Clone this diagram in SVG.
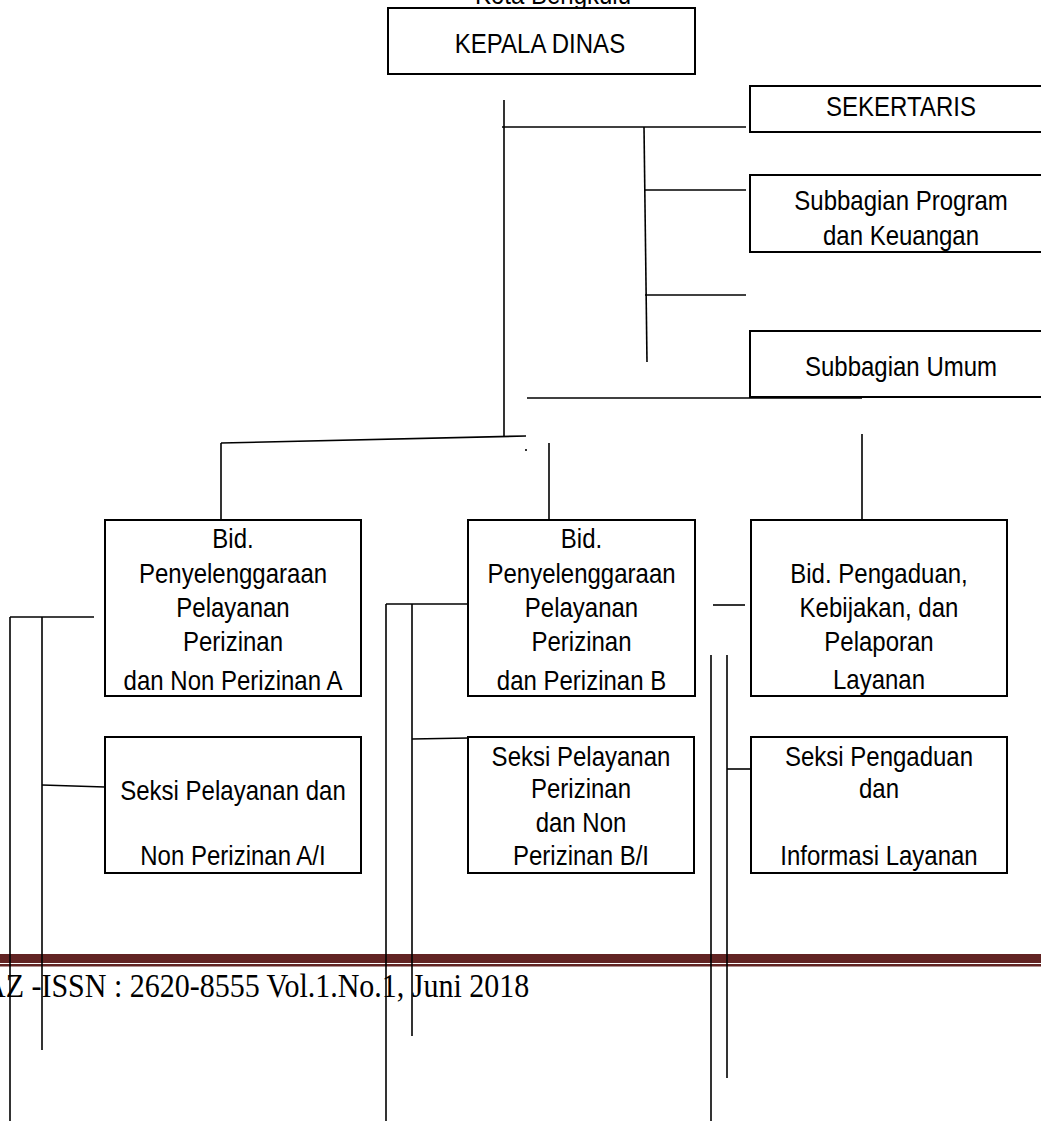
<svg xmlns="http://www.w3.org/2000/svg" width="1041" height="1121" viewBox="0 0 1041 1121">
<style>
.box{fill:#fff;stroke:#000;stroke-width:2}
.t{font-family:"Liberation Sans",Arial,sans-serif;font-size:24px;fill:#000;text-anchor:middle}
.c line{stroke:#000;stroke-width:1.6}
.ft{font-family:"Liberation Serif","Times New Roman",serif;font-size:30px;fill:#000}
</style>
<rect width="1041" height="1121" fill="#fff"/>
<text class="t" transform="translate(553,4) scale(1,1.15)">Kota Bengkulu</text>
<g id="footer">
<rect x="0" y="954" width="1041" height="9" fill="#622423"/>
<rect x="0" y="964" width="1041" height="2.5" fill="#622423"/>
<text class="ft" transform="translate(-16,997) scale(1,1.1)">AZ -ISSN : 2620-8555 Vol.1.No.1, Juni 2018</text>
</g>
<g id="kepala"><rect class="box" x="388" y="8" width="307" height="66"/><text class="t" transform="translate(540,53) scale(1,1.15)">KEPALA DINAS</text></g>
<g id="sekertaris"><rect class="box" x="750" y="86" width="400" height="46"/><text class="t" transform="translate(901,116) scale(1,1.15)">SEKERTARIS</text></g>
<g id="subprogram"><rect class="box" x="750" y="175" width="400" height="77"/><text class="t" transform="translate(901,210) scale(1,1.15)">Subbagian Program</text><text class="t" transform="translate(901,245) scale(1,1.15)">dan Keuangan</text></g>
<g id="subumum"><rect class="box" x="750" y="331" width="400" height="66"/><text class="t" transform="translate(901,376) scale(1,1.15)">Subbagian Umum</text></g>
<g id="bidA"><rect class="box" x="105" y="520" width="256" height="176"/>
<text class="t" transform="translate(233,548) scale(1,1.15)">Bid.</text>
<text class="t" transform="translate(233,583) scale(1,1.15)">Penyelenggaraan</text>
<text class="t" transform="translate(233,617) scale(1,1.15)">Pelayanan</text>
<text class="t" transform="translate(233,651) scale(1,1.15)">Perizinan</text>
<text class="t" transform="translate(233,690) scale(1,1.15)">dan Non Perizinan A</text></g>
<g id="bidB"><rect class="box" x="468" y="520" width="227" height="176"/>
<text class="t" transform="translate(581.5,548) scale(1,1.15)">Bid.</text>
<text class="t" transform="translate(581.5,583) scale(1,1.15)">Penyelenggaraan</text>
<text class="t" transform="translate(581.5,617) scale(1,1.15)">Pelayanan</text>
<text class="t" transform="translate(581.5,651) scale(1,1.15)">Perizinan</text>
<text class="t" transform="translate(581.5,690) scale(1,1.15)">dan Perizinan B</text></g>
<g id="bidC"><rect class="box" x="751" y="520" width="256" height="176"/>
<text class="t" transform="translate(879,583) scale(1,1.15)">Bid. Pengaduan,</text>
<text class="t" transform="translate(879,617) scale(1,1.15)">Kebijakan, dan</text>
<text class="t" transform="translate(879,651) scale(1,1.15)">Pelaporan</text>
<text class="t" transform="translate(879,689) scale(1,1.15)">Layanan</text></g>
<g id="seksiA"><rect class="box" x="105" y="737" width="256" height="136"/>
<text class="t" transform="translate(233,800) scale(1,1.15)">Seksi Pelayanan dan</text>
<text class="t" transform="translate(233,865) scale(1,1.15)">Non Perizinan A/I</text></g>
<g id="seksiB"><rect class="box" x="468" y="737" width="226" height="136"/>
<text class="t" transform="translate(581,766) scale(1,1.15)">Seksi Pelayanan</text>
<text class="t" transform="translate(581,798) scale(1,1.15)">Perizinan</text>
<text class="t" transform="translate(581,832) scale(1,1.15)">dan Non</text>
<text class="t" transform="translate(581,865) scale(1,1.15)">Perizinan B/I</text></g>
<g id="seksiC"><rect class="box" x="751" y="737" width="256" height="136"/>
<text class="t" transform="translate(879,766) scale(1,1.15)">Seksi Pengaduan</text>
<text class="t" transform="translate(879,798) scale(1,1.15)">dan</text>
<text class="t" transform="translate(879,865) scale(1,1.15)">Informasi Layanan</text></g>
<g id="connectors" class="c">
<line x1="504" y1="100" x2="504" y2="437"/>
<line x1="502" y1="127" x2="746" y2="127"/>
<line x1="644" y1="127" x2="647" y2="362"/>
<line x1="644" y1="190" x2="746" y2="190"/>
<line x1="645" y1="295" x2="746" y2="295"/>
<line x1="527" y1="398" x2="862" y2="398"/>
<line x1="221" y1="443" x2="526" y2="436"/>
<line x1="221" y1="443" x2="221" y2="519"/>
<line x1="549" y1="443" x2="549" y2="519"/>
<line x1="862" y1="434" x2="862" y2="519"/>
<line x1="526" y1="449" x2="526" y2="451"/>
<line x1="10" y1="617" x2="94" y2="617"/>
<line x1="10" y1="617" x2="10" y2="1121"/>
<line x1="42" y1="617" x2="42" y2="1050"/>
<line x1="42" y1="785" x2="105" y2="787"/>
<line x1="386" y1="604" x2="468" y2="604"/>
<line x1="386" y1="604" x2="386" y2="1121"/>
<line x1="412" y1="604" x2="412" y2="1036"/>
<line x1="412" y1="739" x2="468" y2="738"/>
<line x1="713" y1="605" x2="745" y2="605"/>
<line x1="711" y1="655" x2="711" y2="1121"/>
<line x1="727" y1="655" x2="727" y2="1078"/>
<line x1="727" y1="769" x2="751" y2="769"/>
</g>
</svg>
